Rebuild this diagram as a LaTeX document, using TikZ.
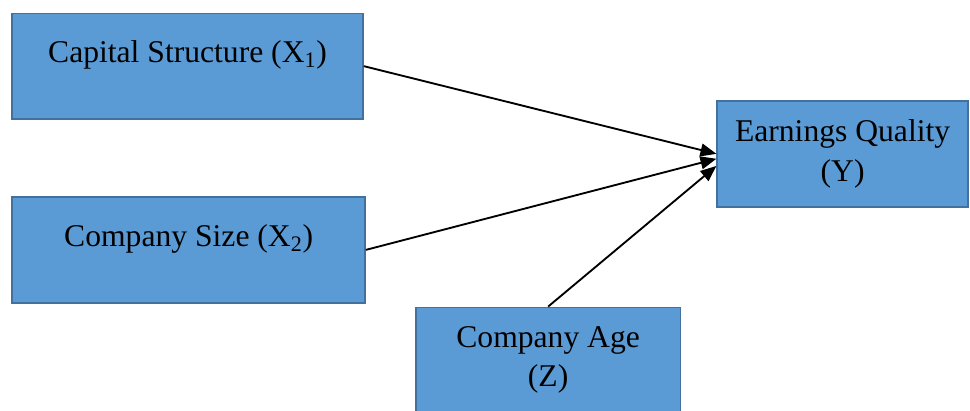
\documentclass[tikz,border=0pt]{standalone}
\usepackage{fontspec}
\setmainfont{Liberation Serif}
\usetikzlibrary{positioning}
\usetikzlibrary{arrows.meta}
\definecolor{boxfill}{HTML}{5B9BD5}
\definecolor{boxdraw}{HTML}{41719C}
\def\squareHeight{2.8}
\tikzset{% variable boxes and links
  var/.style  = {fill=boxfill, draw=boxdraw, line width=1.1pt, rectangle,
    minimum height=\squareHeight cm, align=center, inner sep=0.1cm,
    font=\fontsize{23.8}{29.5}\selectfont},
  link/.style = {line width=1.4pt, -{Triangle[length=0.42cm, width=0.34cm]}},
}

\begin{document}
\begin{tikzpicture}

        \useasboundingbox (0,0) rectangle (25.66,-10.85);

        \node[var, minimum width=9.29cm] at (4.96,-1.75)(CS) {Capital Structure (X\textsubscript{1})\\[-17pt]\strut};

        \node[var, minimum width=9.34cm] at (4.99,-6.61)(SZ) {Company Size (X\textsubscript{2})\\[-17pt]\strut};

        \node[var, minimum width=6.99cm] at (14.50,-9.53)(CA) {Company Age\\(Z)};

        \node[var, minimum width=6.64cm] at (22.29,-4.07)(EQ) {Earnings Quality\\(Y)};

        % links to the dependent variable
        \draw[link] (CS.east) -- (EQ.west);
        \draw[link] (SZ.east) -- ([yshift=-0.13cm]EQ.west);
        \draw[link] (CA.north) -- ([yshift=-0.32cm]EQ.west);

\end{tikzpicture}
\end{document}
